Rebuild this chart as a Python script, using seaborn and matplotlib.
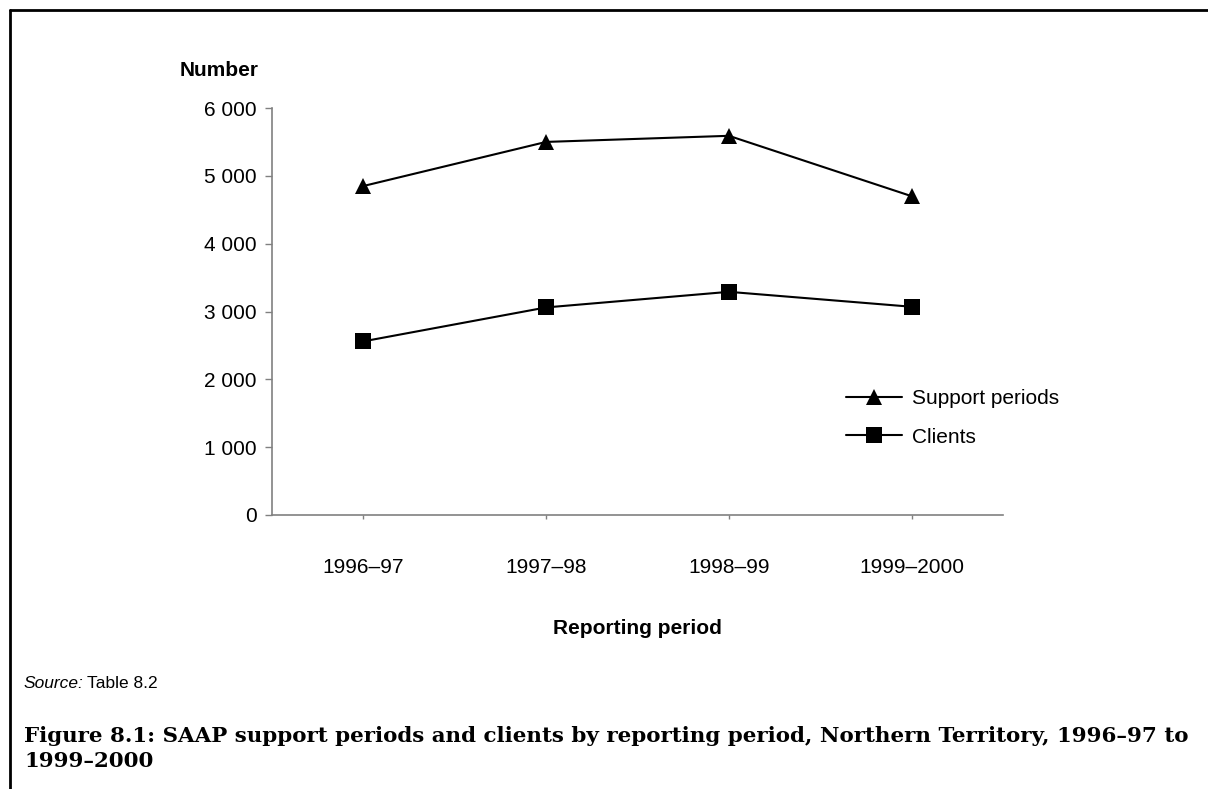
import matplotlib
matplotlib.use('Agg')
import matplotlib.pyplot as plt
import matplotlib.ticker as mticker
from matplotlib.lines import Line2D
import pandas as pd
import seaborn as sns

# Data
periods = ['1996–97', '1997–98', '1998–99', '1999–2000']
support_periods = [4850, 5500, 5590, 4700]
clients = [2560, 3060, 3290, 3070]
series_names = ['Support periods', 'Clients']
y_ticks = [0, 1000, 2000, 3000, 4000, 5000, 6000]

df = pd.DataFrame({
    'period': periods * 2,
    'value': support_periods + clients,
    'series': [series_names[0]] * 4 + [series_names[1]] * 4,
})

sns.set_style('white')
plt.rcParams['font.family'] = ['Liberation Sans', 'DejaVu Sans']
plt.rcParams['text.color'] = 'black'
plt.rcParams['xtick.color'] = 'black'
plt.rcParams['ytick.color'] = 'black'

W, H = 1208, 789
fig = plt.figure(figsize=(W / 100, H / 100), dpi=100)
ax = fig.add_axes([272 / W, 1 - 515 / H, (1003 - 272) / W, (515 - 108) / H])

sns.lineplot(data=df, x='period', y='value', hue='series', style='series',
             markers={'Support periods': '^', 'Clients': 's'}, dashes=False,
             palette={'Support periods': 'black', 'Clients': 'black'},
             sort=False, linewidth=1.5, markersize=11, markeredgewidth=0, ax=ax)

ax.set_xlim(-0.5, 3.5)
ax.set_ylim(0, 6000)
ax.set_yticks(y_ticks)
ax.yaxis.set_major_formatter(mticker.FuncFormatter(lambda v, p: f'{int(v):,}'.replace(',', ' ')))
ax.set_xlabel('')
ax.set_ylabel('')

for side in ['top', 'right']:
    ax.spines[side].set_visible(False)
for side in ['left', 'bottom']:
    ax.spines[side].set_color('#808080')
    ax.spines[side].set_linewidth(1.2)

ax.tick_params(axis='y', direction='out', length=5, width=1, color='#808080',
               labelcolor='black', labelsize=15, pad=6, left=True)
ax.tick_params(axis='x', direction='out', length=3, width=1, color='#808080',
               labelcolor='black', labelsize=15, pad=28, bottom=True)

# Axis titles
fig.text(180 / W, 1 - 70 / H, 'Number', fontsize=15, fontweight='bold',
         ha='left', va='center')
fig.text(637 / W, 1 - 628 / H, 'Reporting period', fontsize=15,
         fontweight='bold', ha='center', va='center')

# Legend
handles, labels = ax.get_legend_handles_labels()
leg = ax.legend(handles, labels, loc='upper left', bbox_to_anchor=(846 / W, 1 - 389 / H),
                bbox_transform=fig.transFigure, frameon=False, fontsize=15,
                handlelength=2.7, handletextpad=0.45, labelspacing=0.95,
                borderpad=0, borderaxespad=0)
for t in leg.get_texts():
    t.set_color('black')

# Source note
fig.text(24 / W, 1 - 683 / H, 'Source:', fontsize=12.5, style='italic',
         ha='left', va='center')
fig.text(87 / W, 1 - 683 / H, 'Table 8.2', fontsize=12.5, ha='left', va='center')

# Caption, sized so the first line spans the same width as in the original
serif = ['DejaVu Serif']
cap1 = fig.text(24 / W, 1 - 742 / H,
                'Figure 8.1: SAAP support periods and clients by reporting period, Northern Territory, 1996–97 to',
                fontsize=15, fontweight='bold', family=serif, ha='left', va='baseline')
renderer = fig.canvas.get_renderer()
cap_size = 15 * 1169 / cap1.get_window_extent(renderer).width
cap1.set_fontsize(cap_size)
fig.text(24 / W, 1 - 767 / H, '1999–2000', fontsize=cap_size, fontweight='bold',
         family=serif, ha='left', va='baseline')

# Frame lines (top and left)
fig.add_artist(Line2D([10 / W, 1], [1 - 10 / H, 1 - 10 / H], color='black',
                      linewidth=2, transform=fig.transFigure))
fig.add_artist(Line2D([10 / W, 10 / W], [0, 1 - 10 / H], color='black',
                      linewidth=2, transform=fig.transFigure))

fig.savefig('out.png', dpi=100)
